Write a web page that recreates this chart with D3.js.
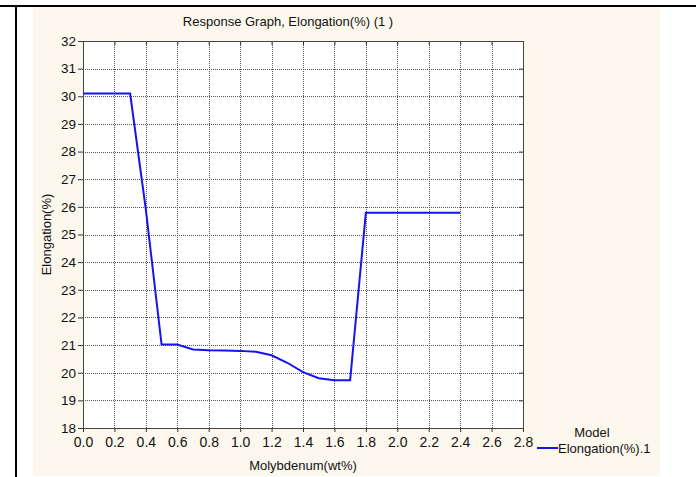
<!DOCTYPE html>
<html>
<head>
<meta charset="utf-8">
<script src="https://cdn.jsdelivr.net/npm/d3@7"></script>
<style>
body { margin: 0; background: #fff; }
text { font-family: "Liberation Sans", Arial, sans-serif; fill: #111; }
</style>
</head>
<body>
<div id="chart"></div>
<script>
// data
var moly = [0.0, 0.1, 0.2, 0.3, 0.4, 0.5, 0.6, 0.7, 0.8, 0.9, 1.0, 1.1, 1.2,
	1.3, 1.4, 1.5, 1.6, 1.7, 1.8, 1.9, 2.0, 2.1, 2.2, 2.3, 2.4];
var elong = [30.1, 30.1, 30.1, 30.1, 25.9, 21.02, 21.02, 20.84, 20.81, 20.8, 20.79, 20.76, 20.63,
	20.36, 20.02, 19.8, 19.73, 19.73, 25.79, 25.79, 25.79, 25.79, 25.79, 25.79, 25.79];
var xTicks = [0.0, 0.2, 0.4, 0.6, 0.8, 1.0, 1.2, 1.4, 1.6, 1.8, 2.0, 2.2, 2.4, 2.6, 2.8];
var yTicks = [18, 19, 20, 21, 22, 23, 24, 25, 26, 27, 28, 29, 30, 31, 32];

var W = 696, H = 477;
var pL = 83, pR = 523, pT = 41, pB = 428;

var svg = d3.select("#chart").append("svg")
	.attr("width", W)
	.attr("height", H);

// page frame + beige panel
svg.append("rect").attr("x", 33).attr("y", 7).attr("width", 627).attr("height", 469).attr("fill", "#fdf8ee");
svg.append("line").attr("x1", 0).attr("x2", W).attr("y1", 6).attr("y2", 6).attr("stroke", "#000").attr("stroke-width", 2);
svg.append("line").attr("x1", 16).attr("x2", 16).attr("y1", 6).attr("y2", H).attr("stroke", "#000").attr("stroke-width", 2);

var x = d3.scaleLinear().domain([0, 2.8]).range([pL, pR]);
var y = d3.scaleLinear().domain([18, 32]).range([pB, pT]);

svg.append("rect")
	.attr("x", pL).attr("y", pT)
	.attr("width", pR - pL).attr("height", pB - pT)
	.attr("fill", "#fff");

// dotted grid
var grid = svg.append("g");
grid.selectAll(".gx").data(xTicks.slice(1, -1)).enter().append("line")
	.attr("x1", function (d) { return Math.round(x(d)) + 0.5; })
	.attr("x2", function (d) { return Math.round(x(d)) + 0.5; })
	.attr("y1", pT).attr("y2", pB)
	.attr("stroke", "#555").attr("stroke-dasharray", "1,1");
grid.selectAll(".gy").data(yTicks.slice(1, -1)).enter().append("line")
	.attr("x1", pL).attr("x2", pR)
	.attr("y1", function (d) { return Math.round(y(d)) + 0.5; })
	.attr("y2", function (d) { return Math.round(y(d)) + 0.5; })
	.attr("stroke", "#555").attr("stroke-dasharray", "1,1");

// axes
var fmtX = d3.format(".1f");
var axB = svg.append("g").attr("transform", "translate(0," + pB + ")")
	.call(d3.axisBottom(x).tickValues(xTicks).tickFormat(fmtX).tickSizeInner(4).tickSizeOuter(0));
var axL = svg.append("g").attr("transform", "translate(" + pL + ",0)")
	.call(d3.axisLeft(y).tickValues(yTicks).tickFormat(d3.format("d")).tickSizeInner(5).tickSizeOuter(0));
var axT = svg.append("g").attr("transform", "translate(0," + pT + ")")
	.call(d3.axisBottom(x).tickValues(xTicks).tickFormat("").tickSizeInner(4).tickSizeOuter(0));
var axR = svg.append("g").attr("transform", "translate(" + pR + ",0)")
	.call(d3.axisLeft(y).tickValues(yTicks).tickFormat("").tickSizeInner(4).tickSizeOuter(0));
[axB, axL, axT, axR].forEach(function (a) {
	a.select(".domain").remove();
	a.selectAll("line").attr("stroke", "#333");
});
axB.selectAll("text").attr("font-size", 14).attr("dy", "0.85em").attr("font-family", "Liberation Sans, Arial, sans-serif");
axL.selectAll("text").attr("font-size", 13.5).attr("x", -7).attr("font-family", "Liberation Sans, Arial, sans-serif");

svg.append("rect")
	.attr("x", pL + 0.5).attr("y", pT + 0.5)
	.attr("width", pR - pL).attr("height", pB - pT)
	.attr("fill", "none").attr("stroke", "#444").attr("stroke-width", 1);

// response line
var pts = moly.map(function (m, i) { return [m, elong[i]]; });
svg.append("path")
	.datum(pts)
	.attr("fill", "none")
	.attr("stroke", "#1414f0")
	.attr("stroke-width", 2)
	.attr("d", d3.line().x(function (d) { return x(d[0]); }).y(function (d) { return y(d[1]); }));

// titles
svg.append("text").attr("x", 288).attr("y", 26).attr("text-anchor", "middle")
	.attr("font-size", 13).text("Response Graph, Elongation(%) (1 )");
svg.append("text").attr("x", (pL + pR) / 2).attr("y", 470).attr("text-anchor", "middle")
	.attr("font-size", 13).text("Molybdenum(wt%)");
svg.append("text").attr("transform", "translate(51," + ((pT + pB) / 2) + ") rotate(-90)")
	.attr("text-anchor", "middle").attr("font-size", 13).text("Elongation(%)");

// legend
svg.append("text").attr("x", 592).attr("y", 437).attr("text-anchor", "middle")
	.attr("font-size", 13).text("Model");
svg.append("line").attr("x1", 537).attr("x2", 558).attr("y1", 448).attr("y2", 448)
	.attr("stroke", "#1414f0").attr("stroke-width", 2);
svg.append("text").attr("x", 558).attr("y", 453).attr("font-size", 13).text("Elongation(%).1");
</script>
</body>
</html>
